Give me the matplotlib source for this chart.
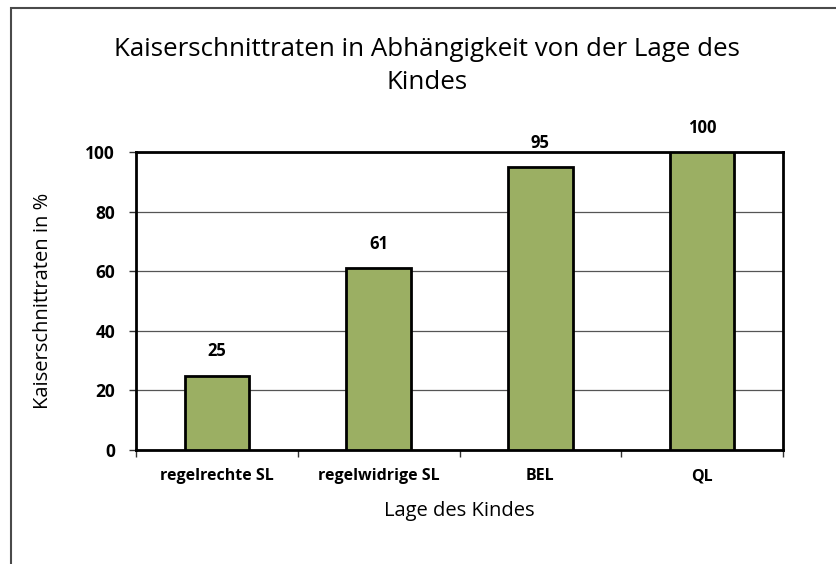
import matplotlib
matplotlib.use("Agg")
import matplotlib.pyplot as plt
from matplotlib.patches import Rectangle

categories = ["regelrechte SL", "regelwidrige SL", "BEL", "QL"]
values = [25, 61, 95, 100]
yticks = [0, 20, 40, 60, 80, 100]

plt.rcParams['font.family'] = ['Open Sans', 'DejaVu Sans']

W, H = 836, 564
fig = plt.figure(figsize=(W/100, H/100), dpi=100)
fig.patch.set_facecolor('white')

# outer frame (cropped at right and bottom)
fig.patches.append(Rectangle((11/W, -0.05), 1.2, (H - 8)/H + 0.05, transform=fig.transFigure,
                             fill=False, edgecolor='#4a4a4a', linewidth=1.5))

left, right, top, bottom = 136, 783, 152, 450
ax = fig.add_axes([left/W, 1 - bottom/H, (right-left)/W, (bottom-top)/H])

x = list(range(len(categories)))
bars = ax.bar(x, values, width=0.4, color='#9BAF63', edgecolor='black', linewidth=2, zorder=3)
for xi, v in zip(x, values):
    ax.annotate(str(v), (xi, v), xytext=(0, 11), textcoords='offset points',
                ha='center', va='bottom', fontsize=12, fontweight='bold')

ax.set_xlim(-0.5, len(categories) - 0.5)
ax.set_ylim(0, 100)
ax.set_yticks(yticks)
ax.set_yticklabels([str(t) for t in yticks], fontsize=12.5, fontweight='bold')
ax.yaxis.grid(True, color='#555555', linewidth=0.9, zorder=0)
ax.set_axisbelow(True)

ax.set_xticks(x)
ax.set_xticklabels(categories, fontsize=11.5, fontweight='bold')
ax.tick_params(axis='x', length=0, pad=13)
ax.set_xticks([i + 0.5 for i in range(-1, len(categories))], minor=True)
ax.tick_params(axis='x', which='minor', length=5, width=1, color='#333333', direction='out')
ax.tick_params(axis='y', length=5, width=1, color='#333333', direction='out', pad=10)

for s in ax.spines.values():
    s.set_linewidth(2)
    s.set_color('black')

ax.set_ylabel("Kaiserschnittraten in %", fontsize=14.5, labelpad=23)
ax.set_xlabel("Lage des Kindes", fontsize=14.5, labelpad=12)

fig.text(427/W, 1 - 66/H, "Kaiserschnittraten in Abhängigkeit von der Lage des\nKindes",
         ha='center', va='center', fontsize=18.6, linespacing=1.45)

fig.savefig("out.png", dpi=100)
